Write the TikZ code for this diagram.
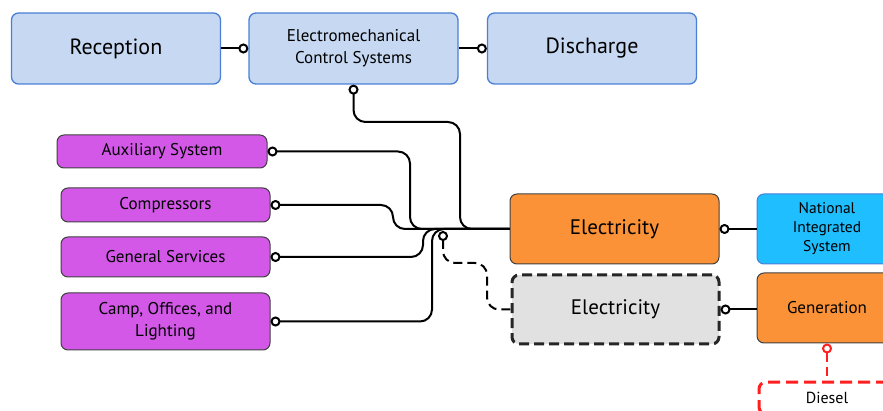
\documentclass[tikz,border=0pt]{standalone}
\usepackage{fontspec}
\setmainfont{PT Sans}
\usetikzlibrary{arrows.meta}
\definecolor{paleblue}{HTML}{C6D8F2}
\definecolor{edgeblue}{HTML}{4A7FD6}
\definecolor{boxpurple}{HTML}{D358E8}
\definecolor{boxorange}{HTML}{FB9237}
\definecolor{boxcyan}{HTML}{1EBEFF}
\definecolor{boxgrey}{HTML}{E1E1E1}
\definecolor{dieselred}{HTML}{FF1F1F}
\tikzset{
  ring/.tip={Circle[open,length=10pt,width=10pt,line width=2pt]},
  box/.style={draw=black!75, line width=1, rounded corners=7, align=center, inner sep=2},
  stage/.style={box, fill=paleblue, draw=edgeblue, line width=1.3, minimum width=209, minimum height=71, font=\fontsize{22}{26}\selectfont},
  load/.style={box, fill=boxpurple, minimum width=209, font=\fontsize{17}{22}\selectfont},
  supply/.style={box, fill=boxorange, minimum height=70},
  link/.style={line width=2, rounded corners=12},
  dashlink/.style={link, dash pattern=on 9 off 5}
}
\begin{document}
\begin{tikzpicture}[x=1pt, y=-1pt]
\useasboundingbox (0,0) rectangle (883,411);
\clip (0,0) rectangle (883,411);
\node[stage] (rec) at (116,48.5) {Reception};
\node[stage, font=\fontsize{17}{22}\selectfont] (emc) at (353.5,48.5) {Electromechanical\\Control Systems};
\node[stage] (dis) at (592,48.5) {Discharge};
\node[load, minimum width=210, minimum height=33] (aux) at (162,151.5) {Auxiliary System};
\node[load, minimum height=34] (comp) at (165.5,205) {Compressors};
\node[load, minimum height=40] (serv) at (165.5,257) {General Services};
\node[load, minimum height=57] (camp) at (165.5,321.5) {Camp, Offices, and\\Lighting};
\node[supply, minimum width=209, font=\fontsize{21}{25}\selectfont] (elec) at (614.5,229) {Electricity};
\node[box, fill=boxcyan, draw=edgeblue, minimum width=140, minimum height=70, font=\fontsize{15.5}{19}\selectfont] (nis) at (827,229) {National\\Integrated\\System};
\node[box, fill=boxgrey, draw=black!85, line width=3, dash pattern=on 10 off 5, minimum width=207, minimum height=69, font=\fontsize{21}{25}\selectfont] (grid) at (615.5,309.5) {Electricity};
\node[supply, minimum width=140, font=\fontsize{17}{21}\selectfont] (genr) at (827,308) {Generation};
\node[box, fill=white, draw=dieselred, line width=3, dash pattern=on 12 off 6, minimum width=136, minimum height=32, font=\fontsize{16}{20}\selectfont] (diesel) at (827,398) {Diesel};
\coordinate (tap) at (443,231);

\draw[link, -ring] (rec.east) -- (emc.west);
\draw[link, -ring] (emc.east) -- (dis.west);
\draw[link, ring-] (emc.south) |- (460,122) |- (elec.west);
\draw[link, ring-] (aux.east) -| (410,229) -- (elec.west);
\draw[link, ring-] (comp.east) -| (393,229) -- (elec.west);
\draw[link, ring-] (serv.east) -| (423,229) -- (elec.west);
\draw[link, ring-] (camp.east) -| (432,229) -- (elec.west);
\draw[dashlink, ring-] (tap) |- (487,263) |- (grid.west);
\draw[link, ring-] (elec.east) -- (nis.west);
\draw[link, ring-] (grid.east) -- (genr.west |- grid.east);
\draw[dashlink, dieselred, line width=2.6, ring-] (genr.south) -- (diesel.north);
\end{tikzpicture}
\end{document}
